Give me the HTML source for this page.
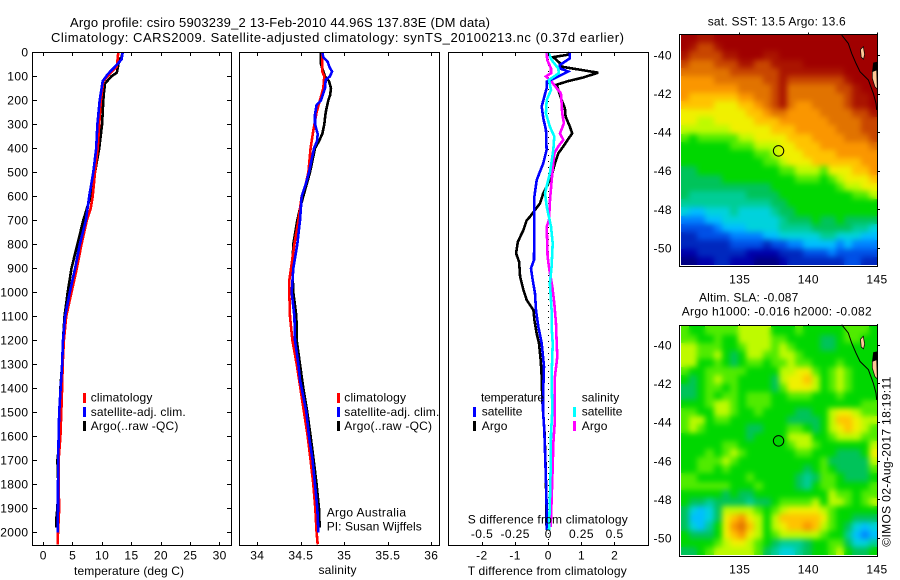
<!DOCTYPE html>
<html lang="en">
<head>
<meta charset="utf-8">
<title>Argo profile 5903239_2</title>
<style>
html,body{margin:0;padding:0;background:#fff;width:900px;height:580px;overflow:hidden}
svg{display:block}
text{font-family:"Liberation Sans",sans-serif;font-size:12px;fill:#000}
.frame{fill:none;stroke:#000;stroke-width:1;shape-rendering:crispEdges}
.mark{fill:none;stroke-width:2.6;stroke-linejoin:miter;shape-rendering:crispEdges}
.bar{shape-rendering:crispEdges}
</style>
</head>
<body>
<svg id="chart" xmlns="http://www.w3.org/2000/svg" width="900" height="580" viewBox="0 0 900 580">
  <defs>
    <filter id="mapBlur" x="-5%" y="-5%" width="110%" height="110%" color-interpolation-filters="sRGB"><feGaussianBlur stdDeviation="2.8"/></filter>
    <clipPath id="clip-sst-map-cells"><rect x="681" y="35" width="196" height="230"/></clipPath>
    <clipPath id="clip-sla-map-cells"><rect x="681" y="327" width="196" height="228"/></clipPath>
  </defs>
  <text x="70" y="27" style="font-size:13px" textLength="420">Argo profile: csiro 5903239_2 13-Feb-2010 44.96S 137.83E (DM data)</text>
  <text x="51" y="42" style="font-size:13px" textLength="573">Climatology: CARS2009. Satellite-adjusted climatology: synTS_20100213.nc (0.37d earlier)</text>

  <g id="map1"></g>
  <g id="map2"></g>

  <g id="panelT"></g>
  <g id="panelS"></g>
  <g id="panelD"></g>

  <rect class="frame" x="32.5" y="52.5" width="199" height="493"/>
  <rect class="frame" x="239.5" y="52.5" width="200" height="493"/>
  <rect class="frame" x="448.5" y="52.5" width="200" height="493"/>
  <rect class="frame" x="679.5" y="34.5" width="198" height="232"/>
  <rect class="frame" x="679.5" y="325.5" width="198" height="231"/>

  <text x="74" y="575" textLength="110">temperature (deg C)</text>
  <text x="318.5" y="574" textLength="38">salinity</text>
  <text x="467.7" y="575" textLength="159">T difference from climatology</text>
  <text x="467.7" y="523.5" textLength="160">S difference from climatology</text>

  <g>
    <rect class="bar" x="83" y="393" width="3" height="10" fill="#ff0000"/>
    <text x="90.7" y="401.7" textLength="61.7">climatology</text>
    <rect class="bar" x="83" y="407" width="3" height="10" fill="#0000ff"/>
    <text x="90.7" y="416" textLength="95">satellite-adj. clim.</text>
    <rect class="bar" x="83" y="421" width="3" height="10" fill="#000"/>
    <text x="90.7" y="430" textLength="87.7">Argo(..raw -QC)</text>
  </g>
  <g>
    <rect class="bar" x="337" y="393" width="3" height="10" fill="#ff0000"/>
    <text x="344.3" y="401.7" textLength="61.7">climatology</text>
    <rect class="bar" x="337" y="407" width="3" height="10" fill="#0000ff"/>
    <text x="344.3" y="416" textLength="95">satellite-adj. clim.</text>
    <rect class="bar" x="337" y="421" width="3" height="10" fill="#000"/>
    <text x="344.3" y="430" textLength="87.7">Argo(..raw -QC)</text>
  </g>
  <text x="326.7" y="516.7" textLength="79.3">Argo Australia</text>
  <text x="326.7" y="530.7" textLength="95">PI: Susan Wijffels</text>

  <g>
    <text x="481" y="401.7" textLength="63">temperature</text>
    <text x="581.7" y="401.7" textLength="37.5">salinity</text>
    <rect class="bar" x="473" y="407" width="3" height="10" fill="#0000ff"/>
    <text x="481.7" y="415.7" textLength="40.7">satellite</text>
    <rect class="bar" x="473" y="421" width="3" height="10" fill="#000"/>
    <text x="481.7" y="430" textLength="25.7">Argo</text>
    <rect class="bar" x="573" y="407" width="3" height="10" fill="#00ffff"/>
    <text x="581.7" y="415.7" textLength="40.7">satellite</text>
    <rect class="bar" x="573" y="421" width="3" height="10" fill="#ff00ff"/>
    <text x="581.7" y="430" textLength="25.7">Argo</text>
  </g>

  <text x="707.7" y="25.3" textLength="138">sat. SST: 13.5 Argo: 13.6</text>
  <text x="699" y="301.7" textLength="99.3">Altim. SLA: -0.087</text>
  <text x="681.7" y="315.7" textLength="190">Argo h1000: -0.016 h2000: -0.082</text>
  <text transform="translate(890.7 546.7) rotate(-90)" x="0" y="0" textLength="170">©IMOS 02-Aug-2017 18:19:11</text>
</svg>

<script>
// ---- axis tick values ----
const depthTicks = [0,100,200,300,400,500,600,700,800,900,1000,1100,1200,1300,1400,1500,1600,1700,1800,1900,2000];
const tempTicks = [0,5,10,15,20,25,30];
const salTicks = [34,34.5,35,35.5,36];
const tDiffTicks = [-2,-1,0,1,2];
const sDiffTicks = [-0.5,-0.25,0,0.25,0.5];
const lonTicks = [135,140,145];
const latTicks = [-40,-42,-44,-46,-48,-50];

// ---- temperature profiles ----
const tempClimDepth = [0,60,90,120,200,300,400,500,600,650,700,800,900,1000,1100,1200,1300,1400,1500,1600,1700,1800,1900,2000,2050];
const tempClim = [12.76,12.5,11.3,10.2,9.8,9.5,9.25,8.8,8.4,8.06,7.4,6.5,5.7,4.8,3.9,3.5,3.3,3.2,3.06,2.9,2.6,2.6,2.7,2.5,2.45];
const tempSatDepth = [0,30,60,90,120,200,300,400,500,600,700,800,900,1000,1100,1200,1300,1400,1500,1600,1700,1800,1900,2000];
const tempSat = [13.5,13.3,12.2,11,10.1,9.6,9.2,9,8.5,7.8,7.25,6.2,5.4,4.5,3.7,3.35,3.2,2.95,2.7,2.6,2.55,2.5,2.5,2.45];
const tempArgoDepth = [0,20,30,60,85,100,130,170,200,300,400,500,600,700,800,900,1000,1100,1200,1300,1400,1500,1600,1700,1800,1900,1950,1980];
const tempArgo = [13.5,13.3,12.9,12.7,12.5,11.6,10.5,10.3,10.2,10,9.5,8.8,8.05,6.8,5.8,4.8,4.15,3.6,3.35,3.2,2.9,2.85,2.85,2.4,2.55,2.4,2.2,2.2];

// ---- salinity profiles ----
const salClimDepth = [0,40,80,100,150,200,250,300,350,400,500,550,600,700,800,900,950,1000,1100,1200,1300,1400,1500,1600,1700,1800,1900,2000,2050];
const salClim = [34.747,34.747,34.747,34.77,34.759,34.72,34.682,34.656,34.633,34.613,34.587,34.556,34.51,34.472,34.426,34.387,34.368,34.368,34.376,34.403,34.453,34.495,34.537,34.579,34.613,34.644,34.667,34.682,34.694];
const salSatDepth = [0,20,40,60,80,100,115,150,200,220,260,300,340,370,400,500,550,600,700,800,900,1000,1100,1200,1300,1365,1400,1500,1600,1700,1800,1900,2000];
const salSat = [34.747,34.759,34.809,34.828,34.859,34.836,34.786,34.778,34.732,34.682,34.663,34.663,34.694,34.686,34.652,34.594,34.556,34.51,34.491,34.46,34.414,34.395,34.426,34.433,34.472,34.491,34.51,34.564,34.594,34.636,34.663,34.69,34.702];
const salArgoDepth = [0,30,50,80,100,120,150,180,200,250,300,340,370,400,500,600,650,700,800,900,1000,1100,1200,1300,1400,1500,1600,1700,1800,1900,1980];
const salArgo = [34.732,34.732,34.732,34.759,34.778,34.824,34.847,34.836,34.816,34.786,34.77,34.747,34.709,34.663,34.606,34.529,34.491,34.46,34.414,34.403,34.414,34.449,34.453,34.491,34.529,34.575,34.613,34.648,34.682,34.709,34.717];

// ---- differences from climatology ----
const tDiffArgoDepth = [0,10,20,45,60,85,105,120,135,157,199,233,268,310,338,365,393,421,463,504,546,587,629,685,700,741,790,838,873,935,990,1032,1074,1116,1172,1213,1283,1352,1449,1590,1726,1866,1990];
const tDiffArgo = [0.65,0.6,0.15,0.35,0.4,1.5,1.05,0.6,0.25,0.3,0.4,0.5,0.52,0.65,0.72,0.58,0.45,0.3,0.2,0.12,0,-0.15,-0.25,-0.55,-0.65,-0.75,-0.92,-0.97,-0.88,-0.85,-0.75,-0.65,-0.45,-0.42,-0.35,-0.28,-0.23,-0.2,-0.18,-0.11,-0.08,-0.06,-0.05];
const tDiffSatDepth = [0,25,53,67,80,108,122,150,185,226,275,324,407,462,532,601,657,865,900,949,1004,1074,1143,1213,1310,1435,1491,1574,1699,1824,1990];
const tDiffSat = [0.65,0.65,0.35,0.35,0.6,0.2,-0.05,-0.05,-0.12,-0.2,-0.15,-0.07,-0.05,-0.15,-0.35,-0.42,-0.42,-0.43,-0.52,-0.47,-0.4,-0.37,-0.3,-0.2,-0.13,-0.16,-0.16,-0.12,-0.09,-0.06,-0.04];
const sDiffSatDepth = [0,32,67,87,115,157,199,254,310,351,407,504,587,643,726,796,893,963,1074,1143,1213,1352,1491,1590,1726,1866,1990];
const sDiffSat = [0,0.025,0.075,0.08,0.005,0.02,-0.012,-0.018,0.012,0.045,0.038,0.012,-0.025,-0.012,0.02,0.033,0.025,0.012,0.025,0.025,0.033,0.025,0.03,0.02,0.018,0.012,0.005];
const sDiffArgoDepth = [0,32,67,87,101,122,150,171,212,254,296,338,365,393,421,504,615,699,726,851,907,976,1046,1129,1213,1268,1352,1477,1533,1632,1726,1866,1977];
const sDiffArgo = [-0.012,-0.008,0.02,0.02,-0.018,0.025,0.063,0.095,0.1,0.105,0.118,0.088,0.113,0.075,0.045,0.03,0.013,0.005,-0.012,-0.005,0.008,0.03,0.045,0.058,0.063,0.068,0.05,0.05,0.05,0.038,0.033,0.025,0.018];

// ---- SST map values (colour-scale level per cell, north to south) ----
const sstGrid = [
[18,18,17,17,18,18,18,18,18,18,18,18,18,18,18,18,18,18,18,18,18,18,18,18],
[18,17,16,16,17,18,18,18,18,18,18,18,18,18,18,18,18,18,18,18,18,18,18,18],
[17,16,16,16,16,17,17,18,18,18,17,17,18,18,18,18,18,18,18,18,18,18,18,18],
[16,15,15,15,16,16,16,17,17,16,16,17,17,17,17,18,18,18,18,18,18,18,18,18],
[15,15,15,15,15,15,16,16,16,16,16,16,17,17,17,17,17,17,17,17,18,18,18,18],
[14,14,14,14,15,15,15,15,15,15,16,16,17,16,16,16,16,16,16,16,17,18,18,18],
[14,14,14,14,14,14,14,15,15,15,15,16,17,15,15,15,15,15,15,16,16,17,18,18],
[14,13,13,13,13,13,13,14,14,15,15,16,17,15,15,15,15,15,15,15,16,17,17,18],
[13,13,13,13,12,12,12,13,13,14,15,16,17,15,14,14,15,15,15,15,16,17,17,18],
[12,12,12,12,12,12,12,12,13,13,14,15,15,14,14,14,14,15,15,15,15,16,16,17],
[12,12,11,11,12,12,12,12,12,13,13,13,14,14,14,14,14,14,15,15,15,15,16,16],
[11,11,11,11,11,11,12,12,12,12,12,13,13,13,14,14,14,14,14,15,15,15,16,16],
[10,9,10,10,10,10,10,11,11,12,12,12,12,13,13,13,14,14,14,14,15,15,15,16],
[9,9,9,9,9,9,10,10,10,11,11,11,12,12,13,13,13,14,14,14,14,14,14,15],
[9,9,9,9,9,9,9,9,9,10,10,11,12,12,12,13,13,13,13,14,14,14,14,14],
[9,9,9,9,9,9,9,9,9,9,10,10,11,12,12,12,13,13,13,13,13,13,14,14],
[8,8,9,9,9,9,9,9,9,9,9,9,10,10,11,11,11,10,12,12,12,13,13,14],
[8,8,8,8,8,9,9,9,9,9,9,9,9,9,10,10,10,9,10,11,12,12,12,13],
[8,8,8,8,8,8,8,8,8,8,8,9,9,9,9,9,9,9,9,10,11,11,12,12],
[8,7,7,7,7,7,7,7,8,8,8,8,9,9,9,9,9,9,9,9,9,10,10,11],
[7,7,7,7,7,7,7,7,7,7,7,8,8,9,9,9,9,9,9,9,9,9,9,9],
[6,5,5,6,6,6,7,6,6,6,6,7,8,8,9,9,9,9,9,9,9,9,9,9],
[4,4,4,5,5,6,6,6,6,6,6,6,7,8,8,8,9,8,8,9,8,8,8,8],
[3,3,3,3,4,5,5,5,6,6,6,6,7,7,7,7,8,8,8,8,8,7,7,6],
[2,2,3,3,3,3,4,4,4,4,5,5,6,6,6,6,6,7,7,6,6,6,5,5],
[2,2,2,2,2,2,3,3,3,3,2,3,3,4,4,5,5,5,5,4,5,4,4,4],
[1,1,2,2,2,2,2,2,1,1,1,1,2,2,2,3,3,3,4,3,3,3,3,3],
[0,0,1,1,2,2,1,1,1,0,0,0,1,2,2,2,2,2,2,2,3,3,2,2]
];

// ---- SLA map values (colour-scale level per cell, north to south) ----
const slaGrid = [
[10,9,9,10,10,10,10,11,11,11,11,9,9,9,10,9,9,9,9,9,10,10,10,9],
[10,10,9,9,10,9,9,11,11,11,11,10,10,9,9,9,9,8,8,9,10,10,9,9],
[11,11,10,10,10,9,9,10,11,11,11,10,11,10,9,9,9,8,8,9,9,9,9,9],
[11,11,10,10,11,9,8,9,11,11,10,10,11,11,10,9,9,9,9,9,9,9,9,9],
[11,11,9,9,10,9,8,9,10,10,9,10,10,11,10,10,9,9,9,10,9,9,9,9],
[10,9,9,10,10,10,10,10,9,9,9,9,11,11,12,12,10,9,10,11,10,9,9,9],
[9,8,9,10,11,10,10,9,9,9,9,8,11,12,12,13,11,9,10,11,10,9,9,9],
[8,8,9,10,10,9,10,9,9,9,9,8,10,12,12,12,11,9,10,11,10,9,9,9],
[8,8,9,10,9,10,10,9,10,10,10,9,9,10,10,10,9,9,9,10,9,9,9,9],
[9,9,9,10,11,11,10,9,10,10,10,9,9,9,9,9,9,9,9,9,9,9,10,10],
[10,10,9,9,11,11,10,9,9,10,9,9,9,9,8,8,9,9,11,12,12,11,10,10],
[10,11,11,9,10,10,9,9,9,9,9,9,9,8,8,8,8,9,11,13,13,12,11,11],
[10,11,10,9,9,9,9,9,8,8,9,9,9,10,10,9,8,9,11,12,13,12,11,10],
[9,9,9,9,9,9,9,9,8,9,9,9,9,11,11,11,9,9,10,11,11,11,10,10],
[9,9,9,9,9,10,10,9,9,9,9,9,9,10,11,11,10,9,9,9,9,9,9,11],
[9,9,9,10,9,10,11,10,9,9,9,9,9,9,10,10,9,9,9,8,8,8,9,12],
[9,9,10,10,10,11,10,9,9,9,9,9,9,9,9,9,9,10,8,8,8,8,8,11],
[9,9,10,10,9,10,9,9,9,9,9,9,9,9,9,8,9,10,9,8,8,8,8,10],
[10,10,9,9,9,9,9,9,10,9,9,9,9,9,8,7,8,10,10,9,8,8,8,9],
[10,10,10,10,10,10,9,9,9,10,9,9,9,9,8,7,9,10,10,9,9,9,9,10],
[9,9,9,9,9,8,9,8,8,9,9,9,9,9,9,9,9,9,11,10,10,9,10,10],
[9,8,8,7,8,8,8,8,7,8,8,9,10,10,10,10,11,9,11,11,10,9,10,11],
[8,6,5,6,8,11,11,11,11,10,9,10,11,12,12,12,12,11,10,9,9,9,9,9],
[8,5,5,6,8,12,13,14,12,11,9,11,13,13,13,13,13,12,10,9,9,8,8,8],
[8,6,5,7,9,12,14,15,13,11,9,11,12,13,13,14,13,11,10,9,8,6,5,6],
[9,8,8,8,9,12,13,14,12,11,9,10,11,11,11,11,11,10,9,9,7,5,4,5],
[9,9,9,9,10,11,12,12,11,10,9,8,7,7,7,8,9,9,10,10,8,6,6,7],
[8,8,9,10,11,11,11,11,11,10,8,7,6,6,7,8,9,9,10,11,9,8,8,9]
];

// ---- map colour scale, geography and float position ----
const levelColors = ['#000082','#0000aa','#0028be','#0050e6','#0082ff','#00beff','#00d2dc','#00cd96','#00c35a','#00d700','#50eb00','#befa00','#f0f000','#ffc300','#fa9600','#e17300','#c84600','#aa1400','#a00000'];
const coastLon = [142.43,142.91,143.16,143.47,143.76,144.37,144.73,144.93,144.98];
const coastLat = [-38.95,-39.38,-39.9,-40.42,-40.85,-41.28,-41.97,-42.49,-42.84];
const kingIslandLon = [143.8,144.0,144.1,144.02,143.85];
const kingIslandLat = [-39.7,-39.55,-39.95,-40.2,-40.1];
const tasmaniaLon = [144.66,144.98,145.02,144.85,144.66];
const tasmaniaLat = [-40.85,-40.76,-41.76,-41.63,-41.19];
const northTipLon = [144.72,145.02,145.02,144.64];
const northTipLat = [-40.38,-40.33,-40.78,-40.85];
const floatLon = [137.83];
const floatLat = [-44.96];

// ---- axis functions ----
const depthY = d => 52.3 + d * 0.24;
const tempX = v => 43.3 + v * 5.88;
const salX = v => 257.3 + (v - 34) * 87;
const tDiffX = v => 548.3 + v * 33.2;
const sDiffX = v => 548.3 + v * 132.6;
const lonX = v => 877 - (145 - v) * 13.73;
const lat1Y = v => 55.3 + (-40 - v) * 19.27;
const lat2Y = v => 345 + (-40 - v) * 19.33;

const NS = 'http://www.w3.org/2000/svg';
function make(tag, parent, attrs) {
  const el = document.createElementNS(NS, tag);
  for (const k in attrs) el.setAttribute(k, attrs[k]);
  parent.appendChild(el);
  return el;
}
function profile(parent, name, depth, values, xScale, color) {
  const pts = values.map((v, i) => xScale(v).toFixed(1) + ',' + depthY(depth[i]).toFixed(1)).join(' ');
  const el = make('polyline', parent, {points: pts, stroke: color, class: 'mark'});
  
  
}
function tick(parent, x1, y1, x2, y2) {
  const el = make('line', parent, {x1: x1, y1: y1, x2: x2, y2: y2, stroke: '#000', 'stroke-width': 1, 'shape-rendering': 'crispEdges'});
  
  
}
function label(parent, str, x, y, anchor) {
  const el = make('text', parent, {x: x, y: y, 'text-anchor': anchor, 'letter-spacing': '0.4'});
  
  
  el.textContent = str;
}
const snap = v => Math.round(v) + 0.5;

// ---- temperature panel ----
const gT = document.getElementById('panelT');
profile(gT, 'temperature-argo-line', tempArgoDepth, tempArgo, tempX, '#000000');
profile(gT, 'temperature-climatology-line', tempClimDepth, tempClim, tempX, '#ff0000');
profile(gT, 'temperature-satellite-line', tempSatDepth, tempSat, tempX, '#0000ff');
depthTicks.forEach(d => {
  const y = snap(depthY(d) - 0.3);
  tick(gT, 32.5, y, 37, y);
  tick(gT, 231.5, y, 227, y);
  label(gT, String(d), 28.5, depthY(d) + 4.3, 'end');
});
tempTicks.forEach(v => {
  const x = snap(tempX(v) - 0.3);
  tick(gT, x, 52.5, x, 56);
  tick(gT, x, 545.5, x, 542);
  label(gT, String(v), tempX(v), 559.5, 'middle');
});

// ---- salinity panel ----
const gS = document.getElementById('panelS');
profile(gS, 'salinity-argo-line', salArgoDepth, salArgo, salX, '#000000');
profile(gS, 'salinity-climatology-line', salClimDepth, salClim, salX, '#ff0000');
profile(gS, 'salinity-satellite-line', salSatDepth, salSat, salX, '#0000ff');
salTicks.forEach(v => {
  const x = snap(salX(v) - 0.3);
  tick(gS, x, 52.5, x, 56);
  tick(gS, x, 545.5, x, 542);
  label(gS, String(v), salX(v), 559.5, 'middle');
});

// ---- difference panel ----
const gD = document.getElementById('panelD');
const zero = make('line', gD, {x1: 548.5, y1: 53, x2: 548.5, y2: 545, stroke: '#000', 'stroke-width': 1, 'stroke-dasharray': '1 5', 'shape-rendering': 'crispEdges'});


profile(gD, 't-difference-argo-line', tDiffArgoDepth, tDiffArgo, tDiffX, '#000000');
profile(gD, 's-difference-argo-line', sDiffArgoDepth, sDiffArgo, sDiffX, '#ff00ff');
profile(gD, 't-difference-satellite-line', tDiffSatDepth, tDiffSat, tDiffX, '#0000ff');
profile(gD, 's-difference-satellite-line', sDiffSatDepth, sDiffSat, sDiffX, '#00ffff');
tDiffTicks.forEach(v => {
  const x = snap(tDiffX(v) - 0.3);
  tick(gD, x, 52.5, x, 56);
  tick(gD, x, 545.5, x, 542);
  label(gD, String(v), tDiffX(v), 559.5, 'middle');
});
sDiffTicks.forEach(v => {
  label(gD, String(v), sDiffX(v), 538, 'middle');
});

// ---- maps ----
function drawMap(group, grid, latY, topLat, bottomLat, labelBase, cellName) {
  const west = 130.72, east = 145;
  const cols = grid[0].length, rows = grid.length;
  const cells = make('g', group, {id: cellName + 's'});
  
  
  grid.forEach((row, r) => {
    row.forEach((v, c) => {
      const x0 = Math.round(lonX(west + (east - west) * c / cols));
      const x1 = Math.round(lonX(west + (east - west) * (c + 1) / cols));
      const y0 = Math.round(latY(topLat + (bottomLat - topLat) * r / rows));
      const y1 = Math.round(latY(topLat + (bottomLat - topLat) * (r + 1) / rows));
      const cell = make('rect', cells, {x: x0, y: y0, width: x1 - x0, height: y1 - y0, fill: levelColors[Math.max(0, Math.min(levelColors.length - 1, Math.round(v)))], 'shape-rendering': 'crispEdges'});
      
      
    });
  });
  const clipped = make('g', group, {'clip-path': 'url(#clip-' + cellName + 's)'});
  
  
  const smooth = make('use', clipped, {href: '#' + cellName + 's', filter: 'url(#mapBlur)'});
  
  
  const pts = (lons, lats) => lons.map((v, i) => lonX(v).toFixed(1) + ',' + latY(lats[i]).toFixed(1)).join(' ');
  const tip = make('polygon', group, {points: pts(northTipLon, northTipLat), fill: '#000'});
  
  
  const tas = make('polygon', group, {points: pts(tasmaniaLon, tasmaniaLat), fill: '#ffc896', stroke: '#000', 'stroke-width': 0.7});
  
  
  const king = make('polygon', group, {points: pts(kingIslandLon, kingIslandLat), fill: '#ffc896', stroke: '#000', 'stroke-width': 0.7});
  
  
  const coast = make('polyline', group, {points: pts(coastLon, coastLat), fill: 'none', stroke: '#000', 'stroke-width': 1});
  
  
  const dot = make('circle', group, {cx: lonX(floatLon[0]), cy: latY(floatLat[0]), r: 5.2, fill: 'none', stroke: '#000', 'stroke-width': 1});
  
  
  lonTicks.forEach(v => {
    const x = snap(lonX(v) - 0.3);
    tick(group, x, latY(topLat) - 2.5, x, latY(topLat) - 0.5);
    label(group, String(v), lonX(v), labelBase, 'middle');
  });
  latTicks.forEach(v => {
    const y = snap(latY(v) - 0.3);
    tick(group, 877.5, y, 880, y);
    label(group, String(v), 672, latY(v) + 4.3, 'end');
  });
}
drawMap(document.getElementById('map1'), sstGrid, lat1Y, -38.95, -50.88, 283.7, 'sst-map-cell');
drawMap(document.getElementById('map2'), slaGrid, lat2Y, -39.04, -50.87, 573.3, 'sla-map-cell');
</script>
</body>
</html>
